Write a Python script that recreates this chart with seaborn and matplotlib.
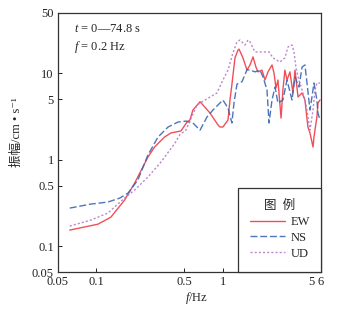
import numpy as np
import pandas as pd
import matplotlib
matplotlib.use("Agg")
import matplotlib.pyplot as plt
import seaborn as sns
from matplotlib.ticker import NullLocator

# Fourier amplitude spectra
ew_freq = [0.062, 0.1035, 0.131, 0.168, 0.202, 0.257, 0.290, 0.348, 0.391, 0.469, 0.524,
           0.552, 0.583, 0.664, 0.796, 0.921, 0.955, 1.007, 1.104, 1.145, 1.18, 1.254,
           1.324, 1.349, 1.449, 1.56, 1.648, 1.741, 1.837, 1.905, 2.05, 2.165, 2.286,
           2.46, 2.55, 2.645, 2.74, 2.90, 3.00, 3.11, 3.23, 3.41, 3.60, 3.74, 3.95,
           4.25, 4.48, 4.73, 4.91, 5.19, 5.28, 5.57, 5.68, 5.89]
ew_amp = [0.153, 0.179, 0.216, 0.340, 0.536, 1.07, 1.40, 1.83, 2.04, 2.15, 2.73,
          2.88, 3.76, 4.69, 3.47, 2.52, 2.39, 2.39, 2.88, 4.91, 7.0, 15.1,
          18.6, 19.1, 15.1, 10.9, 12.5, 15.5, 11.8, 10.4, 10.9, 8.37, 10.4,
          12.5, 10.1, 6.76, 8.37, 3.03, 6.41, 10.9, 8.37, 10.4, 5.92, 10.9, 5.32,
          5.92, 4.91, 2.39, 2.04, 1.40, 1.83, 3.12, 4.53, 4.91]

ns_freq = [0.062, 0.0912, 0.124, 0.154, 0.179, 0.214, 0.257, 0.309, 0.371, 0.445, 0.514,
           0.583, 0.664, 0.753, 0.840, 1.007, 1.104, 1.186, 1.231, 1.30, 1.425, 1.56,
           1.648, 1.804, 1.977, 2.09, 2.245, 2.33, 2.46, 2.60, 2.74, 3.00, 3.23, 3.54,
           3.74, 4.02, 4.25, 4.48, 4.65, 4.91, 5.09, 5.28, 5.57, 5.68, 5.89]
ns_amp = [0.275, 0.306, 0.323, 0.359, 0.410, 0.581, 1.13, 1.83, 2.39, 2.73, 2.80,
          2.66, 2.20, 3.12, 3.76, 4.91, 3.96, 2.66, 4.53, 7.5, 8.0, 11.0,
          10.9, 10.4, 10.9, 9.06, 6.41, 2.66, 4.91, 6.94, 4.53, 4.91, 8.37, 4.91,
          9.06, 6.94, 11.8, 12.5, 7.72, 3.76, 5.32, 7.72, 4.91, 3.47, 2.88]

ud_freq = [0.062, 0.0912, 0.124, 0.168, 0.202, 0.257, 0.326, 0.421, 0.46, 0.514, 0.628,
           0.796, 0.904, 1.007, 1.104, 1.208, 1.30, 1.374, 1.504, 1.589, 1.649, 1.804,
           1.977, 2.165, 2.33, 2.505, 2.84, 3.11, 3.29, 3.54, 3.67, 3.80, 3.95, 4.25,
           4.48, 4.65, 4.91, 5.19, 5.38, 5.57, 5.89]
ud_amp = [0.170, 0.200, 0.241, 0.359, 0.445, 0.629, 0.938, 1.56, 1.95, 2.20, 4.30,
          5.32, 5.92, 8.37, 10.9, 17.2, 23.1, 24.3, 21.3, 24.3, 23.1, 17.7,
          17.7, 17.7, 17.7, 15.1, 13.5, 15.1, 20.2, 21.3, 17.7, 11.8, 9.06, 6.41,
          4.91, 3.76, 2.20, 3.76, 6.41, 7.72, 7.72]

series = ["EW", "NS", "UD"]
colors = {"EW": "#f03c46", "NS": "#3a66b4", "UD": "#b47ac8"}
dashes = {"EW": None, "NS": (5, 2), "UD": (1.5, 1.5)}

df = pd.concat([
    pd.DataFrame({"f": ew_freq, "amp": ew_amp, "comp": "EW"}),
    pd.DataFrame({"f": ns_freq, "amp": ns_amp, "comp": "NS"}),
    pd.DataFrame({"f": ud_freq, "amp": ud_amp, "comp": "UD"}),
])

sns.set_theme(style="ticks")
plt.rcParams["font.family"] = ["Liberation Serif", "Noto Sans CJK SC", "DejaVu Sans"]
plt.rcParams["mathtext.fontset"] = "custom"
plt.rcParams["mathtext.rm"] = "Liberation Serif"
plt.rcParams["mathtext.it"] = "Liberation Serif:italic"

fig = plt.figure(figsize=(3.37, 3.09), dpi=100)
ax = fig.add_axes([0.172, 0.1197, 0.7805, 0.8383])

for name in series:
    d = df[df["comp"] == name]
    sns.lineplot(data=d, x="f", y="amp", ax=ax, color=colors[name],
                 linewidth=1.0, label=name, estimator=None, sort=False)
    ln = ax.get_lines()[-1]
    if dashes[name] is not None:
        ln.set_dashes(dashes[name])
    ln.set_alpha(0.9)

ax.set_xscale("log")
ax.set_yscale("log")
ax.set_xlim(0.05, 6)
ax.set_ylim(0.05, 50)

xt = [0.05, 0.1, 0.5, 1, 5, 6]
yt = [0.05, 0.1, 0.5, 1, 5, 10, 50]
ax.set_xticks(xt)
ax.set_xticklabels(["0.05", "0.1", "0.5", "1", "5", "6"])
ax.set_yticks(yt)
ax.set_yticklabels(["0.05", "0.1", "0.5", "1", "5", "10", "50"])
ax.xaxis.set_minor_locator(NullLocator())
ax.yaxis.set_minor_locator(NullLocator())
ax.tick_params(direction="in", length=3, width=0.7, labelsize=9, pad=3, colors="#222222")

for sp in ax.spines.values():
    sp.set_color("#333333")
    sp.set_linewidth(0.9)

ax.set_xlabel(r"$f$/Hz", fontsize=9)
ax.xaxis.set_label_coords(0.528, -0.068)
ax.set_ylabel("振幅/cm • s\u207b\u00b9", fontsize=9)
ax.yaxis.set_label_coords(-0.135, 0.54)

ax.text(0.06, 0.925, r"$t$ = 0—74.8 s", transform=ax.transAxes, fontsize=9, va="baseline")
ax.text(0.06, 0.858, r"$f$ = 0.2 Hz", transform=ax.transAxes, fontsize=9, va="baseline")

leg = ax.legend(title="图  例", loc="lower left", bbox_to_anchor=(0.684, 0.0, 0.316, 0.332),
                mode="expand", borderaxespad=0, fancybox=False, frameon=True,
                edgecolor="#333333", fontsize=9, title_fontsize=9, handlelength=2.8,
                handletextpad=0.4, labelspacing=0.3, borderpad=1.0)
leg.get_frame().set_linewidth(0.9)
leg.get_frame().set_alpha(1)

fig.savefig("out.png", dpi=100)
